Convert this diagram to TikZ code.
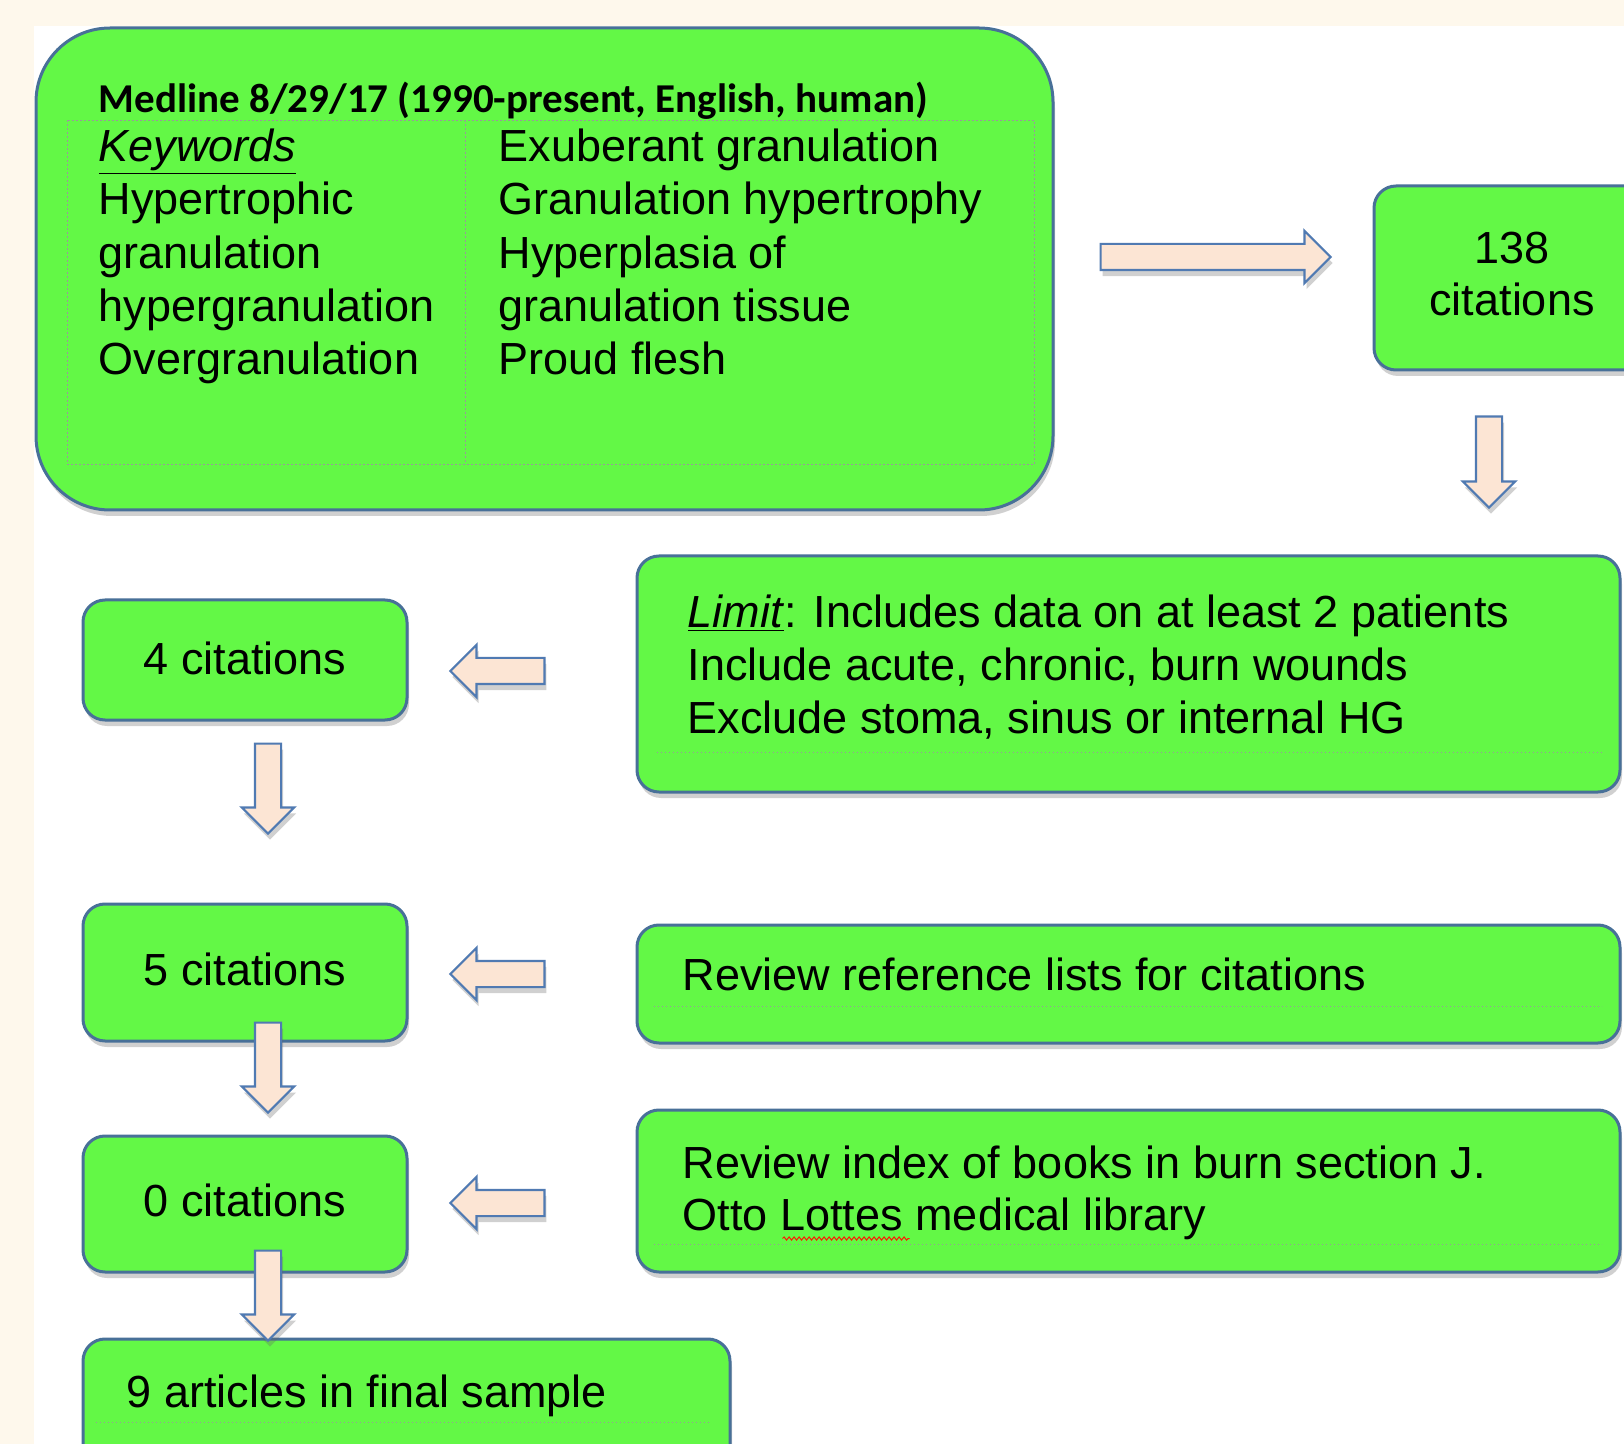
\documentclass[tikz,border=0pt]{standalone}
\usepackage{fontspec}
\setmainfont{Liberation Sans}
\newfontfamily\calibri{Carlito}
\usetikzlibrary{calc,shapes.arrows,shadows,decorations.pathmorphing}
\definecolor{cream}{RGB}{254,248,236}
\definecolor{boxgreen}{RGB}{99,248,70}
\definecolor{boxblue}{RGB}{72,112,152}
\definecolor{arrblue}{RGB}{80,122,178}
\definecolor{peach}{RGB}{252,229,212}
\tikzset{
  sz/.style 2 args={minimum width=#1*.5pt,minimum height=#2*.5pt},
  gbox/.style={draw=boxblue,line width=1.5pt,fill=boxgreen,rounded corners=11pt,inner sep=0pt,
    drop shadow={shadow xshift=1pt,shadow yshift=-3pt,opacity=.3,fill=black!60}},
  txt/.style={inner sep=0pt,font=\fontsize{22.5}{26.7}\selectfont},
  blockarr/.style={single arrow,draw=arrblue,fill=peach,line width=1.1pt,inner xsep=0pt,inner ysep=6pt,
    single arrow head extend=6.5pt,single arrow tip angle=90,
    drop shadow={shadow xshift=1pt,shadow yshift=-3pt,opacity=.3,fill=black!60}},
  frame/.style={draw=black!40,line width=.8pt,dash pattern=on .8pt off 1.2pt}
}
\newcommand{\fatarrow}[3]{%
  \path let \p1=#2,\p2=#3,\n1={veclen(\x2-\x1,\y2-\y1)},\n2={atan2(\y2-\y1,\x2-\x1)} in
    node[blockarr,minimum height=\n1,rotate=\n2,anchor=tail] (#1) at (\p1) {};}
\begin{document}
\begin{tikzpicture}[x=.5pt,y=-.5pt]
  \useasboundingbox (0,0) rectangle (1624,1444);
  \clip (0,0) rectangle (1624,1444);
  \fill[cream] (0,0) rectangle (1624,1444);
  \fill[white] (34,26) rectangle (1624,1444);

  % search terms
  \node[gbox,rounded corners=37pt,sz={1017}{482}] (search) at (544.5,269) {};
  \node[txt,anchor=base west,font=\calibri\bfseries\fontsize{20.5}{22}\selectfont] (title)
    at ($(search.north west)+(64,86)$) {Medline 8/29/17 (1990-present, English, human)};
  \draw[frame] ($(search.north west)+(33,94)$) rectangle ($(search.south east)+(-20,-47)$);
  \draw[frame] ($(search.north west)+(431,94)$) -- ($(search.south west)+(431,-47)$);
  \foreach \t [count=\i from 0] in {\underline{\textit{Keywords}},Hypertrophic,granulation,hypergranulation,Overgranulation}
    \node[txt,anchor=base west] (kw\i) at ($(search.north west)+(64,135+53.3*\i)$) {\t};
  \foreach \t [count=\i from 0] in {Exuberant granulation,Granulation hypertrophy,Hyperplasia of,granulation tissue,Proud flesh}
    \node[txt,anchor=base west] (kr\i) at ($(search.north west)+(464,135+53.3*\i)$) {\t};

  \node[gbox,sz={276}{184}] (cites) at (1512,278) {};
  \node[txt,anchor=base] (c1) at ($(cites.north)+(0,79)$) {138};
  \node[txt,anchor=base] (c2) at ($(cites.north)+(0,131)$) {citations};

  % filters
  \node[gbox,sz={983}{236}] (limit) at (1128.5,674) {};
  \foreach \t [count=\i from 0] in {{\underline{\textit{Limit}}: Includes data on at least 2 patients},{Include acute, chronic, burn wounds},{Exclude stoma, sinus or internal HG}}
    \node[txt,anchor=base west] (lm\i) at ($(limit.north west)+(52,73+52.8*\i)$) {\t};
  \draw[frame] ($(limit.south west)+(21,-41)$) -- ($(limit.south east)+(-20,-41)$);

  \node[gbox,sz={983}{118}] (refs) at (1128.5,984) {};
  \node[txt,anchor=base west] (rf) at ($(refs.west)+(47,6)$) {Review reference lists for citations};
  \draw[frame] ($(refs.south west)+(18,-38)$) -- ($(refs.south east)+(-20,-38)$);

  \node[gbox,sz={983}{162}] (index) at (1128.5,1191) {};
  \node[txt,anchor=base west] (ix0) at ($(index.north west)+(47,70)$) {Review index of books in burn section J.};
  \node[txt,anchor=base west] (ix1) at ($(index.north west)+(47,122)$) {Otto Lottes medical library};
  \draw[frame] ($(index.south west)+(18,-29)$) -- ($(index.south east)+(-20,-29)$);
  \draw[red!80!orange,line width=.5pt,decorate,decoration={snake,amplitude=.8pt,segment length=2.5pt}]
    ($(ix1.base west)+(100,8)$) -- ($(ix1.base west)+(227,8)$);

  % counts
  \node[gbox,sz={324}{120}] (four) at (245,660) {};
  \node[txt,anchor=base] (t4) at ($(four.center)+(0,15)$) {4 citations};
  \node[gbox,sz={324}{137}] (five) at (245,972.5) {};
  \node[txt,anchor=base] (t5) at ($(five.center)+(0,13)$) {5 citations};
  \node[gbox,sz={324}{136}] (zero) at (245,1204) {};
  \node[txt,anchor=base] (t0) at ($(zero.center)+(0,12)$) {0 citations};
  \node[gbox,sz={647}{131}] (final) at (406.5,1404.5) {};
  \node[txt,anchor=base west] (t9) at ($(final.north west)+(45,70)$) {9 articles in final sample};
  \draw[frame] ($(final.north west)+(14,85)$) -- ($(final.north west)+(628,85)$);

  % block arrows
  \fatarrow{a1}{($(search.east)+(45,-12)$)}{($(cites.west)+(-43,-21)$)}
  \fatarrow{a2}{($(cites.south)+(-23,44)$)}{($(limit.north -| cites.south)+(-23,-48)$)}
  \fatarrow{a3}{($(limit.west)+(-90,-3)$)}{($(four.east |- limit.west)+(43,-3)$)}
  \fatarrow{a4}{($(four.south)+(23,21)$)}{($(five.north)+(23,-70)$)}
  \fatarrow{a5}{($(refs.west)+(-90,-10)$)}{($(five.east |- refs.west)+(43,-10)$)}
  \fatarrow{a6}{($(five.south)+(23,-21)$)}{($(zero.north)+(23,-23)$)}
  \fatarrow{a7}{($(index.west)+(-90,12)$)}{($(zero.east |- index.west)+(43,12)$)}
  \fatarrow{a8}{($(zero.south)+(23,-24)$)}{($(final.north -| zero.south)+(23,2)$)}
\end{tikzpicture}
\end{document}
